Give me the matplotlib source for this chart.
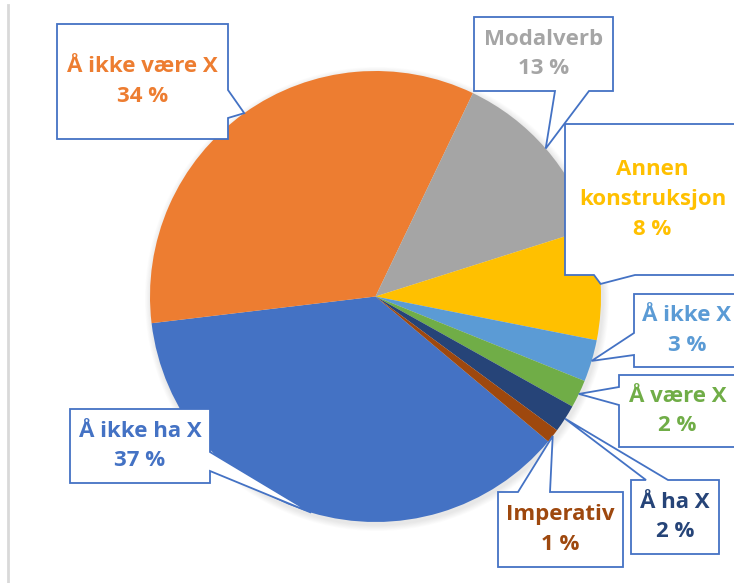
import numpy as np
import matplotlib
matplotlib.use("Agg")
import matplotlib.pyplot as plt
from matplotlib.patches import Polygon, Circle
from matplotlib.lines import Line2D

# data
labels = ["Å ikke ha X", "Å ikke være X", "Modalverb", "Annen\nkonstruksjon",
          "Å ikke X", "Å være X", "Å ha X", "Imperativ"]
values = [37, 34, 13, 8, 3, 2, 2, 1]
colors = ["#4472C4", "#ED7D31", "#A5A5A5", "#FFC000",
          "#5B9BD5", "#70AD47", "#264478", "#9E480E"]

W, H = 734, 583
cx, cy, R = 375.5, 296.5, 225.5   # pie centre / radius in pixels (y down)
start_bearing = 130.0              # first slice starts here, clockwise from 12 o'clock

# callout boxes in pixels: (x0, y0, x1, y1), pointer side, pointer base span
boxes = [
    ((70, 409, 210, 483), "right", (452, 471)),
    ((57, 24, 228, 139), "right", (90, 118)),
    ((474, 17, 613, 91), "bottom", (555, 589)),
    ((565, 124, 740, 275), "bottom", (594, 635)),
    ((634, 294, 740, 367), "left", (333, 355)),
    ((619, 375, 736, 447), "left", (387, 405)),
    ((631, 480, 719, 554), "top", (646, 668)),
    ((498, 492, 623, 567), "top", (518, 550)),
]

fig = plt.figure(figsize=(W / 100, H / 100), dpi=100)
ax = fig.add_axes([0, 0, 1, 1])

# soft shadow under the pie
for i in range(8):
    ax.add_patch(Circle((cx + 1.5, H - cy - 2.5), R + 1 + i * 0.8,
                        color="black", alpha=0.012, lw=0, zorder=0))

ax.pie(values, colors=colors, startangle=90 - start_bearing, counterclock=False,
       center=(cx, H - cy), radius=R, wedgeprops=dict(linewidth=0),
       frame=True)
for w in ax.patches:
    w.set_zorder(1)

ax.set_xlim(0, W)
ax.set_ylim(0, H)
ax.set_aspect("auto")
ax.axis("off")

# left border line
ax.add_line(Line2D([8, 8], [0, H - 5], color="#D9D9D9", lw=2, zorder=0))

blue = "#4472C4"
cum = np.cumsum([0] + values)
total = float(sum(values))


def callout(box, side, base, tip):
    x0, y0, x1, y1 = box
    b0, b1 = base
    pts = [(x0, y0)]
    if side == "top":
        pts += [(b0, y0), tip, (b1, y0)]
    pts.append((x1, y0))
    if side == "right":
        pts += [(x1, b0), tip, (x1, b1)]
    pts.append((x1, y1))
    if side == "bottom":
        pts += [(b1, y1), tip, (b0, y1)]
    pts.append((x0, y1))
    if side == "left":
        pts += [(x0, b1), tip, (x0, b0)]
    pts = [(px, H - py) for px, py in pts]
    ax.add_patch(Polygon(pts, closed=True, facecolor="white", edgecolor=blue,
                         lw=1.3, joinstyle="miter", zorder=3))


for i, (lab, val, col) in enumerate(zip(labels, values, colors)):
    mid = start_bearing + (cum[i] + cum[i + 1]) / 2 / total * 360
    a = np.deg2rad(mid)
    tip = (cx + R * np.sin(a), cy - R * np.cos(a))
    box, side, base = boxes[i]
    callout(box, side, base, tip)
    tx = (box[0] + box[2]) / 2
    ty = (box[1] + box[3]) / 2
    ax.text(tx, H - ty, f"{lab}\n{val} %", ha="center", va="center",
            multialignment="center", color=col, fontsize=16,
            fontweight="bold", family=["Open Sans", "DejaVu Sans"],
            linespacing=1.55, zorder=4)

fig.savefig("out.png", dpi=100)
